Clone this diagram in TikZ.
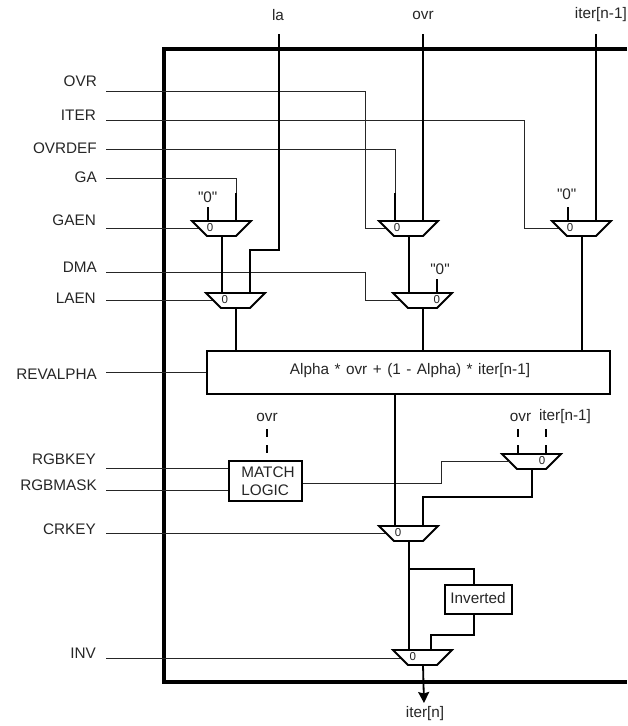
\documentclass[tikz,border=0pt]{standalone}
\usepackage{fontspec}
\setmainfont{Liberation Sans}[Ligatures=TeXOff]
\usetikzlibrary{shapes.geometric,arrows.meta}
\tikzset{
  x=1pt,y=-1pt,
  thinwire/.style={line width=1pt,black!85},
  thickwire/.style={line width=1.8pt,black},
  dashwire/.style={line width=1.8pt,black,dash pattern=on 8pt off 8pt},
  frame/.style={line width=3.6pt,black},
  muxshape/.style={trapezium,shape border rotate=180,trapezium angle=45,
    inner sep=0pt,outer sep=0pt,draw=black,line width=1.8pt,fill=white},
  zerolabel/.style={font=\fontsize{11.5}{12}\selectfont,inner sep=0pt,text=black!85},
  lab/.style={font=\fontsize{15.3}{18}\selectfont,inner sep=0pt,text=black!85},
  sidelab/.style={lab,anchor=east},
  block/.style={draw=black,line width=1.8pt,fill=white,inner sep=0pt},
}
% name, left x, top y, zero x, zero y
\newcommand\muxgate[5]{%
  \node[muxshape] (#1) at ({#2+29.5},{#3+7.5}) {\phantom{\rule{29pt}{15pt}}};
  \coordinate (#1-a) at ({#2+16},{#3});
  \coordinate (#1-b) at ({#2+44},{#3});
  \coordinate (#1-o) at ({#2+30},{#3+15});
  \coordinate (#1-s) at ({#2+7.5},{#3+7.5});
  \node[zerolabel] (#1-z) at (#4,#5) {0};
}
\begin{document}
\begin{tikzpicture}
\useasboundingbox (0,0) rectangle (627,726);
\fill[white] (0,0) rectangle (627,726);
% frame
\draw[frame] (627,49) -- (164,49) -- (164,682) -- (627,682);

% free ends
\foreach \n/\yy in {OVR/91.5,ITER/120.5,OVRDEF/149.5,GA/178.5,GAEN/228.5,DMA/272.5,LAEN/300.5,REV/372.5,KEY/468.5,MASK/490.5,CR/533.5,INV/658.5}
  \coordinate (w\n) at (106,\yy);
\coordinate (inla) at (279,34);
\coordinate (inovr) at (423,34);
\coordinate (initer) at (596,34);
\coordinate (z1) at (208,207);
\coordinate (z2) at (568,207);
\coordinate (z3) at (437,279);
\coordinate (d1) at (267,429);
\coordinate (d1e) at (267,453);
\coordinate (d2) at (518,429);
\coordinate (d3) at (546,429);
\coordinate (jGA) at (236,193);
\coordinate (jOD) at (395,193);
\coordinate (outn) at (424,703);

% thin control wires (drawn first, gates and blocks cover their ends)
\draw[thinwire] (wOVR) -- (365.5,91.5) |- (386,228.5);
\draw[thinwire] (wITER) -- (524.5,120.5) |- (559,228.5);
\draw[thinwire] (wOVRDEF) -| (jOD);
\draw[thinwire] (wGA) -| (jGA);
\draw[thinwire] (wGAEN) -- (199,228.5);
\draw[thinwire] (wDMA) -- (365.5,272.5) |- (400,300.5);
\draw[thinwire] (wLAEN) -- (213,300.5);
\draw[thinwire] (wCR) -- (386,533.5);
\draw[thinwire] (wINV) -- (401,658.5);

% blocks
\node[block,minimum width=403pt,minimum height=43pt] (blend) at (408.5,372.5) {};
\node[lab] (blendt) at (410,370.5) {\spaceskip=.36em Alpha * ovr + (1 - Alpha) * iter[n-1]};
\node[block,minimum width=73pt,minimum height=40pt] (match) at (265.5,481) {};
\node[lab,align=left] (matcht) at (268,481.5) {MATCH\\LOGIC};
\node[block,minimum width=67pt,minimum height=29pt] (inv) at (478.5,599.5) {};
\node[lab] (invt) at (478,598.5) {Inverted};

% multiplexers
\muxgate{mGA}{192}{221}{210}{228}
\muxgate{mLA}{206}{293}{224.7}{300}
\muxgate{mOV}{379}{221}{397}{228}
\muxgate{mDM}{393}{293}{436.7}{300}
\muxgate{mIT}{552}{221}{570}{228}
\muxgate{mKY}{502}{454}{542}{460.5}
\muxgate{mCR}{379}{526}{398}{533}
\muxgate{mIN}{393}{650}{412.7}{657}

% side labels
\node[sidelab] (lOVR) at (97,81) {OVR};
\node[sidelab] (lITER) at (96,115.5) {ITER};
\node[sidelab] (lOVRDEF) at (97,148) {OVRDEF};
\node[sidelab] (lGA) at (97,177) {GA};
\node[sidelab] (lGAEN) at (96,220) {GAEN};
\node[sidelab] (lDMA) at (97,267) {DMA};
\node[sidelab] (lLAEN) at (96,298.5) {LAEN};
\node[sidelab] (lREV) at (97,374) {REVALPHA};
\node[sidelab] (lKEY) at (96,459) {RGBKEY};
\node[sidelab] (lMASK) at (97,485) {RGBMASK};
\node[sidelab] (lCR) at (96,529) {CRKEY};
\node[sidelab] (lINV) at (96,653) {INV};
% top labels
\node[lab] (tla) at (278,15) {la};
\node[lab] (tovr) at (423,15) {ovr};
\node[lab,anchor=east] (titer) at (627,15) {iter[n-1]};
\node[lab] (tout) at (425,714) {iter[n]};
\node[lab] (tovrA) at (267,417) {ovr};
\node[lab] (tovrB) at (520.5,417) {ovr};
\node[lab] (titerB) at (565,417) {iter[n-1]};
\node[lab] (q1) at (207.7,197) {"0"};
\node[lab] (q2) at (566.7,194) {"0"};
\node[lab] (q3) at (440,269) {"0"};

% wires attached to named blocks
\draw[thinwire] (wREV) -- (wREV -| blend.west);
\draw[thinwire] (wKEY) -- (wKEY -| match.west);
\draw[thinwire] (wMASK) -- (wMASK -| match.west);
\draw[thinwire] (match.east |- 0,483.5) -- (441.5,483.5) |- (mKY-s);

% thick data wires
\draw[thickwire] (jGA) -- (mGA-b);
\draw[thickwire] (jOD) -- (mOV-a);
\draw[thickwire] (z1) -- (mGA-a);
\draw[thickwire] (z2) -- (mIT-a);
\draw[thickwire] (z3) -- (mDM-b);
\draw[thickwire] (mGA-o) -- (mLA-a);
\draw[thickwire] (inla) -- (279,250) -| (mLA-b);
\draw[thickwire] (inovr) -- (mOV-b);
\draw[thickwire] (initer) -- (mIT-b);
\draw[thickwire] (mOV-o) -- (mDM-a);
\draw[thickwire] (mLA-o) -- (mLA-o |- blend.north);
\draw[thickwire] (mDM-o) -- (mDM-o |- blend.north);
\draw[thickwire] (mIT-o) -- (mIT-o |- blend.north);
\draw[thickwire] (mCR-a |- blend.south) -- (mCR-a);
\draw[dashwire] (d1) -- (d1e);
\draw[dashwire] (d2) -- (mKY-a);
\draw[dashwire] (d3) -- (mKY-b);
\draw[thickwire] (mKY-o) -- (532,497) -| (mCR-b);
\draw[thickwire] (mCR-o) -- (mIN-a);
\draw[thickwire] (mCR-o |- 0,569) -| (inv.north -| 474,0);
\draw[thickwire] (inv.south -| 474,0) -- (474,635) -| (431,650);
\draw[thickwire,-{Stealth[length=11pt,width=11pt,inset=1.5pt]}] (mIN-o) -- (outn);
\end{tikzpicture}
\end{document}
